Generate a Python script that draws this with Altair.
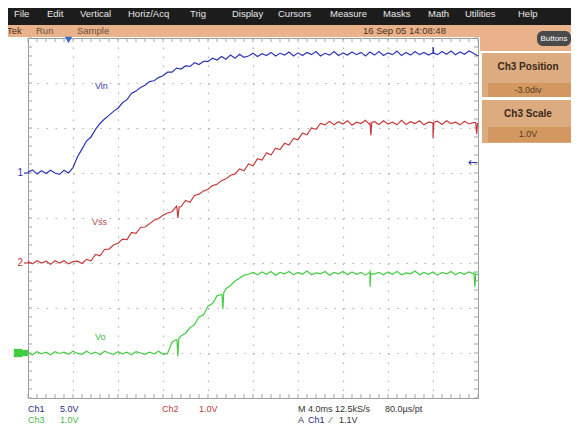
import altair as alt
import pandas as pd

# time axis in screen divisions (10 div across, sampled every 0.1 div)
t_div = [round(i * 0.1, 1) for i in range(101)]

# traces, in screen divisions from the bottom graticule line (8 div tall)
vin = [5.02, 5.07, 4.98, 5.05, 4.99, 5.06, 5.00, 4.97, 5.06, 5.00,
       5.12, 5.36, 5.53, 5.71, 5.80, 5.97, 6.10, 6.20, 6.28, 6.37,
       6.44, 6.56, 6.63, 6.77, 6.82, 6.90, 6.95, 7.03, 7.05, 7.12,
       7.16, 7.24, 7.24, 7.33, 7.31, 7.38, 7.37, 7.45, 7.41, 7.48,
       7.48, 7.55, 7.51, 7.59, 7.53, 7.62, 7.55, 7.64, 7.57, 7.60,
       7.66, 7.59, 7.65, 7.61, 7.68, 7.60, 7.66, 7.62, 7.69, 7.60,
       7.67, 7.61, 7.68, 7.63, 7.70, 7.60, 7.66, 7.62, 7.70, 7.61,
       7.67, 7.62, 7.69, 7.63, 7.68, 7.60, 7.69, 7.62, 7.70, 7.61,
       7.67, 7.63, 7.71, 7.61, 7.68, 7.62, 7.70, 7.63, 7.68, 7.62,
       7.66, 7.63, 7.70, 7.64, 7.71, 7.63, 7.69, 7.64, 7.71, 7.66,
       7.60]
vss = [3.03, 2.98, 3.05, 3.00, 3.04, 2.97, 3.05, 3.00, 3.05, 2.98,
       3.03, 3.04, 2.99, 3.08, 3.05, 3.19, 3.16, 3.30, 3.31, 3.40,
       3.44, 3.53, 3.52, 3.68, 3.66, 3.79, 3.80, 3.87, 3.95, 3.99,
       4.06, 4.11, 4.14, 4.26, 4.25, 4.39, 4.35, 4.50, 4.53, 4.60,
       4.64, 4.72, 4.75, 4.83, 4.87, 4.95, 4.98, 5.09, 5.05, 5.20,
       5.16, 5.32, 5.29, 5.45, 5.40, 5.55, 5.52, 5.66, 5.62, 5.77,
       5.74, 5.89, 5.85, 6.00, 5.97, 6.10, 6.07, 6.15, 6.07, 6.14,
       6.09, 6.16, 6.06, 6.13, 6.10, 6.17, 6.07, 6.14, 6.08, 6.16,
       6.09, 6.13, 6.07, 6.17, 6.08, 6.14, 6.10, 6.16, 6.07, 6.13,
       6.09, 6.15, 6.08, 6.16, 6.10, 6.13, 6.07, 6.15, 6.09, 6.12,
       6.10]
vo = [1.00, 0.96, 1.03, 0.98, 1.02, 0.96, 1.03, 0.99, 1.02, 0.97,
      1.04, 0.99, 0.97, 1.04, 0.98, 1.02, 0.96, 1.04, 1.00, 0.97,
      1.03, 0.98, 1.02, 0.96, 1.03, 1.00, 0.97, 1.02, 0.98, 1.04,
      0.97, 0.99, 1.24, 1.30, 1.38, 1.44, 1.56, 1.63, 1.80, 1.85,
      2.04, 2.10, 2.27, 2.30, 2.43, 2.50, 2.60, 2.66, 2.73, 2.75,
      2.79, 2.74, 2.80, 2.75, 2.81, 2.73, 2.79, 2.76, 2.81, 2.74,
      2.79, 2.75, 2.82, 2.74, 2.78, 2.76, 2.81, 2.73, 2.79, 2.76,
      2.81, 2.74, 2.80, 2.75, 2.79, 2.73, 2.81, 2.76, 2.79, 2.74,
      2.80, 2.75, 2.81, 2.74, 2.78, 2.76, 2.82, 2.74, 2.79, 2.75,
      2.80, 2.73, 2.79, 2.76, 2.81, 2.74, 2.79, 2.75, 2.80, 2.76,
      2.74]

# narrow glitches (time, level)
vin_glitch_t = [8.98, 9.00, 9.02]
vin_glitch_v = [7.66, 7.80, 7.66]
vss_glitch_t = [3.31, 3.33, 3.36, 7.60, 7.62, 7.64, 8.98, 9.00, 9.02, 9.95, 9.97, 9.99]
vss_glitch_v = [4.22, 4.00, 4.25, 6.12, 5.84, 6.13, 6.12, 5.78, 6.13, 6.12, 5.87, 6.10]
vo_glitch_t = [3.31, 3.33, 3.35, 4.31, 4.33, 4.35, 7.58, 7.60, 7.62, 9.91, 9.93, 9.95]
vo_glitch_v = [1.28, 0.93, 1.32, 2.30, 1.98, 2.34, 2.78, 2.47, 2.76, 2.78, 2.47, 2.76]

trace_names = ["Vin", "Vss", "Vo"]
trace_colors = ["#2f36b8", "#c83a3a", "#44cc44"]

# channel reference levels (divisions) and trigger
ch1_ground, ch2_ground, ch3_ground = 5.0, 3.0, 1.0
trigger_time = 0.9
trigger_level = 5.24

W, H = 450, 360

rows = []
for name, ys, gt, gv in zip(trace_names, [vin, vss, vo],
                            [vin_glitch_t, vss_glitch_t, vo_glitch_t],
                            [vin_glitch_v, vss_glitch_v, vo_glitch_v]):
    for t, v in zip(list(t_div) + gt, list(ys) + gv):
        rows.append({"t": t, "v": v, "trace": name})
df = pd.DataFrame(rows).sort_values(["trace", "t"]).reset_index(drop=True)

xs = alt.Scale(domain=[0, 10], nice=False, zero=False)
ys_ = alt.Scale(domain=[0, 8], nice=False, zero=False)

xaxis = alt.Axis(values=list(range(11)), grid=True, gridDash=[1.5, 7.5],
                 gridColor="#b4b4b4", gridWidth=1.2, labels=False, ticks=False,
                 domain=False, title=None)
yaxis = alt.Axis(values=list(range(9)), grid=True, gridDash=[1.5, 7.5],
                 gridColor="#b4b4b4", gridWidth=1.2, labels=False, ticks=False,
                 domain=False, title=None)

lines = alt.Chart(df).mark_line(strokeWidth=1.2).encode(
    x=alt.X("t:Q", scale=xs, axis=xaxis),
    y=alt.Y("v:Q", scale=ys_, axis=yaxis),
    color=alt.Color("trace:N", scale=alt.Scale(domain=trace_names, range=trace_colors), legend=None),
    detail="trace:N",
    order="t:Q",
)

one = pd.DataFrame({"a": [0]})


def rect(x1, x2, y1, y2, color, radius=0):
    return alt.Chart(one).mark_rect(color=color, cornerRadius=radius).encode(
        x=alt.value(x1), x2=alt.value(x2), y=alt.value(y1), y2=alt.value(y2))


def txt(s, x, y, color="#222222", size=9, weight="normal", align="left", font="Liberation Sans"):
    return alt.Chart(one).mark_text(text=s, color=color, fontSize=size, fontWeight=weight,
                                     align=align, baseline="middle", font=font).encode(
        x=alt.value(x), y=alt.value(y))


# graticule edge ticks
minor_x = pd.DataFrame({"t": [i * 0.2 for i in range(51)]})
minor_y = pd.DataFrame({"v": [i * 0.2 for i in range(41)]})
tick_col = "#a4a4a4"
tb = alt.Chart(minor_x).mark_rule(color=tick_col, strokeWidth=1).encode(
    x=alt.X("t:Q", scale=xs), y=alt.value(H), y2=alt.value(H - 4))
tt = alt.Chart(minor_x).mark_rule(color=tick_col, strokeWidth=1).encode(
    x=alt.X("t:Q", scale=xs), y=alt.value(0), y2=alt.value(4))
tl = alt.Chart(minor_y).mark_rule(color=tick_col, strokeWidth=1).encode(
    y=alt.Y("v:Q", scale=ys_), x=alt.value(0), x2=alt.value(4))
tr = alt.Chart(minor_y).mark_rule(color=tick_col, strokeWidth=1).encode(
    y=alt.Y("v:Q", scale=ys_), x=alt.value(W), x2=alt.value(W - 4))

layers = []
# menu bar and status bar
layers.append(rect(-40, 560, -45, -13, "#1c1c1c"))
layers.append(rect(-40, 560, -13, -1, "#e9b28b"))
layers.append(rect(452, 560, -1, 13, "#e9b28b"))
menu = [("File", -14), ("Edit", 19), ("Vertical", 52), ("Horiz/Acq", 100), ("Trig", 162),
        ("Display", 204), ("Cursors", 250), ("Measure", 302), ("Masks", 355), ("Math", 400),
        ("Utilities", 437), ("Help", 490)]
for s, x in menu:
    layers.append(txt(s, x, -24, color="#e8e8e8", size=9.5))
layers.append(txt("Tek", -21, -7, color="#4a3020", size=9.5))
layers.append(txt("Run", 8, -7, color="#6a5040", size=9.5))
layers.append(txt("Sample", 49, -7, color="#6a5040", size=9.5))
layers.append(txt("16 Sep 05 14:08:48", 335, -7, color="#4a3020", size=9.5))
layers.append(rect(509, 543, -7, 8, "#4a4a4a", radius=6))
layers.append(txt("Buttons", 526, 0.5, color="#ffffff", size=8, align="center"))

# right side boxes
layers.append(rect(454, 545, 15, 59, "#dcac80"))
layers.append(rect(460, 545, 45, 59, "#d39860"))
layers.append(txt("Ch3 Position", 500, 29, color="#3a2818", size=10, weight="bold", align="center"))
layers.append(txt("-3.0div", 500, 52, color="#5a3a22", size=9, align="center"))
layers.append(rect(454, 545, 62, 105, "#dcac80"))
layers.append(rect(460, 545, 89, 104, "#d39860"))
layers.append(txt("Ch3 Scale", 500, 76, color="#3a2818", size=10, weight="bold", align="center"))
layers.append(txt("1.0V", 500, 96, color="#5a3a22", size=9, align="center"))

layers += [tb, tt, tl, tr, lines]

# channel markers
layers.append(alt.Chart(one).mark_text(text="1", color="#2f33b4", fontSize=10, align="right",
                                       baseline="middle", font="Liberation Sans").encode(
    x=alt.value(-5), y=alt.Y(datum=ch1_ground, scale=ys_)))
layers.append(alt.Chart(one).mark_rule(color="#2f33b4", strokeWidth=1.2).encode(
    x=alt.value(-4), x2=alt.value(1), y=alt.Y(datum=ch1_ground, scale=ys_)))
layers.append(alt.Chart(one).mark_text(text="2", color="#b84040", fontSize=10, align="right",
                                       baseline="middle", font="Liberation Sans").encode(
    x=alt.value(-5), y=alt.Y(datum=ch2_ground, scale=ys_)))
layers.append(alt.Chart(one).mark_rule(color="#c83a3a", strokeWidth=1.2).encode(
    x=alt.value(-4), x2=alt.value(1), y=alt.Y(datum=ch2_ground, scale=ys_)))
layers.append(alt.Chart(one).mark_point(shape="square", filled=True, color="#44cc44", size=70,
                                        opacity=1).encode(
    x=alt.value(-10), y=alt.Y(datum=ch3_ground, scale=ys_)))
layers.append(alt.Chart(one).mark_point(shape="square", filled=True, color="#44cc44", size=40,
                                        opacity=1).encode(
    x=alt.value(-3), y=alt.Y(datum=ch3_ground, scale=ys_)))
# trigger position and level markers
layers.append(alt.Chart(one).mark_point(shape="triangle-down", filled=True, color="#3a6ad0",
                                        size=55, opacity=1).encode(
    x=alt.X(datum=trigger_time, scale=xs), y=alt.value(2)))
layers.append(alt.Chart(one).mark_text(text="\u2190", color="#2f33b4", fontSize=12, align="right",
                                       baseline="middle", font="DejaVu Sans").encode(
    x=alt.value(W), y=alt.Y(datum=trigger_level, scale=ys_)))

# trace labels
layers.append(txt("Vin", 67, 48, color="#3a3aa8", size=9))
layers.append(txt("Vss", 64, 184, color="#b05050", size=9))
layers.append(txt("Vo", 67, 299, color="#44bb44", size=9))

# bottom readouts
layers.append(txt("Ch1", 0, 371, color="#2a2a80", size=9))
layers.append(txt("5.0V", 32, 371, color="#2a2a80", size=9))
layers.append(txt("Ch3", 0, 382, color="#44bb44", size=9))
layers.append(txt("1.0V", 32, 382, color="#44bb44", size=9))
layers.append(txt("Ch2", 134, 371, color="#bb3a3a", size=9))
layers.append(txt("1.0V", 171, 371, color="#bb3a3a", size=9))
layers.append(txt("M 4.0ms 12.5kS/s", 270, 371, color="#333333", size=9))
layers.append(txt("80.0\u00b5s/pt", 357, 371, color="#333333", size=9))
layers.append(txt("A", 270, 382, color="#333333", size=9))
layers.append(txt("Ch1", 280, 382, color="#2a2a80", size=9))
layers.append(txt("\u2044", 302, 382, color="#333333", size=9))
layers.append(txt("1.1V", 311, 382, color="#333333", size=9))

chart = alt.layer(*layers).properties(
    width=W, height=H,
    padding={"left": 20, "top": 30, "right": 93, "bottom": 28},
    autosize=alt.AutoSizeParams(type="none"),
    background="#ffffff",
).configure_view(stroke="#9a9a9a", strokeWidth=1)

chart.save("out.html", embed_options={"renderer": "svg", "actions": False})
